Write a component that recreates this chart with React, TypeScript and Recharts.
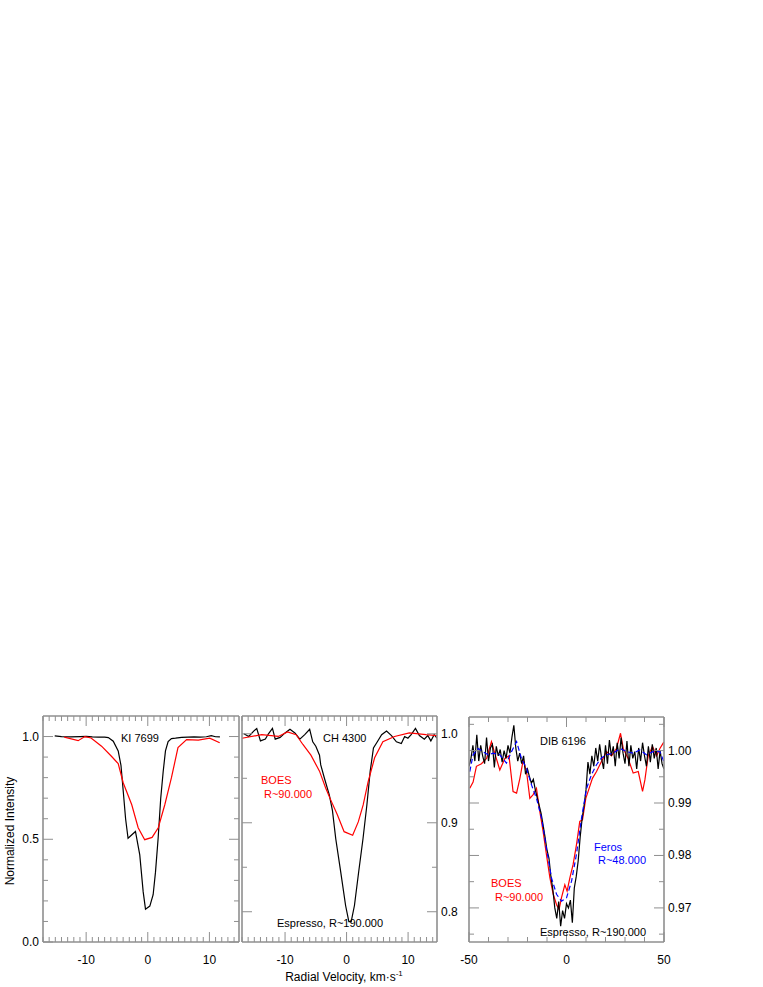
import React from "react";
import { LineChart, Line, XAxis, YAxis } from "recharts";

// KI 7699 — Espresso (black) and BOES (red)
const kiEspressoVel = [-15.1, -14.0, -12.5, -11.0, -10.0, -9.0, -8.0, -7.0, -6.4, -5.6, -4.8, -4.35, -3.97, -3.6, -3.2, -2.0, -1.3, -0.75, -0.37, 0.33, 0.87, 1.25, 1.68, 2.1, 2.5, 2.87, 3.3, 3.84, 4.5, 5.5, 6.5, 7.5, 8.5, 9.5, 10.3, 11.0, 11.7];
const kiEspressoInt = [1.003, 1.0, 0.998, 1.0, 1.001, 0.998, 0.997, 0.997, 0.995, 0.977, 0.93, 0.86, 0.73, 0.6, 0.505, 0.538, 0.424, 0.245, 0.16, 0.175, 0.23, 0.34, 0.505, 0.7, 0.83, 0.93, 0.975, 0.99, 0.992, 0.996, 0.997, 0.998, 0.997, 0.999, 1.004, 0.999, 0.998];
const kiBoesVel = [-13.55, -11.3, -10.2, -9.2, -7.5, -5.9, -4.8, -3.99, -2.6, -1.56, -0.5, 0.7, 1.7, 2.76, 3.84, 4.9, 6.3, 8.2, 10.05, 11.67];
const kiBoesInt = [0.997, 0.98, 1.0, 0.993, 0.953, 0.904, 0.868, 0.775, 0.668, 0.556, 0.498, 0.509, 0.556, 0.668, 0.8, 0.946, 0.985, 0.983, 0.992, 0.97];

// CH 4300
const chEspressoVel = [-16.7, -15.9, -15.1, -14.6, -14.0, -13.2, -12.7, -12.05, -11.6, -10.8, -10.0, -9.2, -8.4, -7.6, -6.8, -6.0, -5.5, -5.0, -4.4, -4.2, -3.6, -2.8, -2.3, -1.76, -0.96, -0.16, 0.37, 0.75, 1.28, 1.97, 2.67, 3.3, 3.84, 4.37, 4.9, 5.7, 6.5, 7.3, 8.1, 8.9, 9.44, 9.97, 10.5, 11.2, 11.84, 12.64, 13.2, 13.7, 14.24, 14.7];
const chEspressoInt = [1.0, 0.997, 1.003, 1.006, 0.992, 0.994, 1.0, 1.006, 0.994, 0.996, 1.001, 1.005, 1.001, 0.994, 0.999, 1.005, 0.991, 0.986, 0.976, 0.965, 0.95, 0.931, 0.914, 0.882, 0.845, 0.807, 0.789, 0.789, 0.807, 0.845, 0.882, 0.92, 0.958, 0.984, 0.99, 0.999, 1.003, 0.998, 0.991, 0.989, 0.997, 0.995, 0.999, 1.006, 0.998, 0.994, 0.998, 0.992, 0.999, 0.995];
const chBoesVel = [-17.0, -13.8, -11.1, -9.6, -8.2, -7.1, -5.8, -4.4, -3.4, -2.6, -1.5, -0.4, 0.99, 1.9, 2.7, 3.5, 4.56, 5.9, 7.8, 10.2, 12.9, 14.7];
const chBoesInt = [0.995, 0.999, 0.997, 1.002, 0.999, 0.988, 0.976, 0.958, 0.939, 0.926, 0.909, 0.89, 0.886, 0.901, 0.92, 0.946, 0.973, 0.991, 0.997, 1.001, 0.999, 0.998];

// DIB 6196
const dibEspressoVel = [-50, -49, -48, -47, -46, -45, -44, -43, -42, -41, -40, -39, -38, -37, -36, -35, -34, -33, -32, -31, -30, -29, -28, -27, -26, -25, -24, -23, -22, -21, -20, -19, -18, -17, -16, -15, -14, -13, -12, -11, -10, -9, -8, -7, -6, -5, -4, -3, -2, -1, 0, 1, 2, 3, 4, 5, 6, 7, 8, 9, 10, 11, 12, 13, 14, 15, 16, 17, 18, 19, 20, 21, 22, 23, 24, 25, 26, 27, 28, 29, 30, 31, 32, 33, 34, 35, 36, 37, 38, 39, 40, 41, 42, 43, 44, 45, 46, 47, 48, 49, 50];
const dibEspressoInt = [0.997, 0.9985, 1.001, 0.998, 1.003, 0.998, 1.001, 0.999, 0.9975, 1.0025, 0.998, 1.0005, 1.0012, 0.9968, 1.0008, 0.999, 1.0002, 0.9978, 1.0, 0.9985, 1.001, 0.9995, 1.0025, 1.0048, 1.0005, 0.998, 0.9995, 0.9975, 0.999, 0.9955, 0.9965, 0.995, 0.9938, 0.9945, 0.9925, 0.991, 0.9895, 0.988, 0.9858, 0.9835, 0.981, 0.9795, 0.976, 0.9735, 0.97, 0.968, 0.9712, 0.9665, 0.9695, 0.968, 0.9708, 0.97, 0.9715, 0.9672, 0.9738, 0.976, 0.979, 0.9835, 0.987, 0.9895, 0.9925, 0.9978, 0.9955, 0.999, 0.997, 1.0005, 0.998, 1.0012, 0.9985, 0.9965, 1.001, 0.9975, 1.002, 0.999, 1.0008, 0.997, 1.0015, 0.9985, 1.0025, 0.9995, 0.9975, 1.0018, 0.997, 1.001, 0.9985, 0.9998, 0.9965, 1.0005, 0.998, 1.0015, 0.999, 0.997, 1.0008, 0.9978, 1.0012, 0.9985, 1.0005, 0.9965, 1.0, 0.9975, 0.9965];
const dibBoesVel = [-49.6, -47.9, -46.2, -43.6, -41.0, -38.5, -36.8, -34.2, -31.6, -29.5, -27.4, -25.6, -23.9, -22.2, -20.5, -18.8, -17.1, -15.4, -13.7, -12.0, -10.3, -8.5, -6.8, -5.1, -3.8, -2.6, -0.85, 0.3, 1.7, 3.4, 5.1, 6.8, 8.2, 9.9, 11.6, 13.3, 15.4, 17.1, 20.5, 23.1, 25.6, 27.7, 29.1, 31.6, 34.2, 36.8, 39.0, 40.2, 41.9, 44.1, 46.2, 47.9, 49.9];
const dibBoesInt = [0.9928, 0.994, 0.997, 0.9975, 0.9985, 1.0017, 0.9995, 0.9963, 0.9985, 0.999, 0.9922, 0.9919, 0.9947, 0.9982, 0.996, 0.9909, 0.9916, 0.9928, 0.9884, 0.9846, 0.9802, 0.9757, 0.9726, 0.9706, 0.9697, 0.9719, 0.9744, 0.9732, 0.9757, 0.9783, 0.982, 0.9865, 0.9868, 0.9909, 0.9928, 0.9947, 0.996, 0.9973, 0.9998, 0.999, 1.0004, 1.0033, 1.0004, 0.9985, 0.9957, 0.996, 0.9922, 0.9944, 0.999, 1.0008, 0.999, 1.0004, 1.0016];
const dibFerosVel = [-49.6, -47.9, -45.3, -42.8, -40.2, -37.6, -34.2, -30.8, -28.2, -25.6, -23.1, -20.5, -17.9, -15.4, -12.8, -10.3, -7.7, -5.1, -2.6, 0, 2.6, 5.1, 7.7, 10.3, 12.8, 15.4, 17.9, 20.5, 24.0, 27.4, 30.8, 34.2, 37.6, 41.0, 44.4, 47.9, 49.9];
const dibFerosInt = [0.996, 0.9992, 1.0004, 0.9998, 0.9992, 0.9995, 0.9992, 0.9976, 0.9998, 1.0017, 0.9985, 0.9966, 0.9934, 0.9909, 0.9871, 0.9814, 0.9757, 0.9726, 0.9713, 0.9719, 0.9751, 0.9802, 0.9871, 0.9928, 0.9954, 0.9973, 0.9986, 0.9992, 0.9995, 1.0004, 0.9998, 0.9995, 1.0001, 0.9992, 0.9998, 0.9998, 0.9979];

// ticks
const velTicks = [-17, -16, -15, -14, -13, -12, -11, -10, -9, -8, -7, -6, -5, -4, -3, -2, -1, 0, 1, 2, 3, 4, 5, 6, 7, 8, 9, 10, 11, 12, 13, 14];
const velMajor = [-10, 0, 10];
const kiYTicks = [0, 0.1, 0.2, 0.3, 0.4, 0.5, 0.6, 0.7, 0.8, 0.9, 1.0];
const kiYMajor = [0, 0.5, 1.0];
const chYTicks = [0.8, 0.85, 0.9, 0.95, 1.0];
const chYMajor = [0.8, 0.9, 1.0];
const dibXTicks = [-50, -40, -30, -20, -10, 0, 10, 20, 30, 40, 50];
const dibXMajor = [-50, 0, 50];
const dibYTicks = [0.965, 0.97, 0.975, 0.98, 0.985, 0.99, 0.995, 1.0, 1.005];
const dibYMajor = [0.97, 0.98, 0.99, 1.0];

const AXIS = "#8f8f8f";
const FONT = "'Liberation Sans', Arial, Helvetica, sans-serif";

const pts = (v: number[], i: number[]) => v.map((x, k) => ({ x, y: i[k] }));

// inward tick, label only on majors
function makeTick(side: string, majors: number[], label: boolean, digits: number) {
  // eslint-disable-next-line @typescript-eslint/no-explicit-any
  return (p: any) => {
    const { x, y, payload } = p;
    const v = payload.value;
    const major = majors.some((m) => Math.abs(m - v) < 1e-9);
    const len = major ? 10 : 5;
    let line;
    let txt = null;
    if (side === "bottom") {
      line = <line x1={x} y1={y} x2={x} y2={y - len} stroke={AXIS} />;
      if (label && major) txt = <text x={x} y={y + 18} textAnchor="middle" dominantBaseline="central" fontSize={12} fontFamily={FONT} fill="#000">{v}</text>;
    } else if (side === "top") {
      line = <line x1={x} y1={y} x2={x} y2={y + len} stroke={AXIS} />;
    } else if (side === "left") {
      line = <line x1={x} y1={y} x2={x + len} y2={y} stroke={AXIS} />;
      if (label && major) txt = <text x={x - 4} y={y} textAnchor="end" dominantBaseline="central" fontSize={12} fontFamily={FONT} fill="#000">{v.toFixed(digits)}</text>;
    } else {
      line = <line x1={x} y1={y} x2={x - len} y2={y} stroke={AXIS} />;
      if (label && major) txt = <text x={x + 4} y={y} textAnchor="start" dominantBaseline="central" fontSize={12} fontFamily={FONT} fill="#000">{v.toFixed(digits)}</text>;
    }
    return <g>{line}{txt}</g>;
  };
}

interface Series { data: { x: number; y: number }[]; color: string; dash?: string }

interface PanelProps {
  left: number; top: number; width: number; height: number;
  margin: { top: number; right: number; bottom: number; left: number };
  xDomain: [number, number]; yDomain: [number, number];
  xTicks: number[]; xMajor: number[]; yTicks: number[]; yMajor: number[];
  yLabelSide: "left" | "right" | "none"; yDigits: number;
  series: Series[];
}

// axes take 1px each, so margins are reduced by 1
function Panel(p: PanelProps) {
  const common = { type: "number" as const, allowDataOverflow: true, tickSize: 0, tickMargin: 0, tickLine: false, axisLine: { stroke: AXIS, strokeWidth: 1.6 }, interval: 0 as const };
  const m = { top: p.margin.top - 1, right: p.margin.right - 1, bottom: p.margin.bottom - 1, left: p.margin.left - 1 };
  // top ticks drawn as a mirrored copy along the top edge
  return (
    <div style={{ position: "absolute", left: p.left, top: p.top }}>
      <LineChart width={p.width} height={p.height} margin={m}>
        <XAxis {...common} xAxisId="b" orientation="bottom" dataKey="x" height={1} domain={p.xDomain} ticks={p.xTicks} tick={makeTick("bottom", p.xMajor, true, 0)} />
        <XAxis {...common} xAxisId="t" orientation="top" dataKey="x" height={1} domain={p.xDomain} ticks={p.xTicks} tick={makeTick("top", p.xMajor, false, 0)} />
        <YAxis {...common} yAxisId="l" orientation="left" width={1} domain={p.yDomain} ticks={p.yTicks} tick={makeTick("left", p.yMajor, p.yLabelSide === "left", p.yDigits)} />
        <YAxis {...common} yAxisId="r" orientation="right" width={1} domain={p.yDomain} ticks={p.yTicks} tick={makeTick("right", p.yMajor, p.yLabelSide === "right", p.yDigits)} />
        {p.series.map((s, k) => (
          <Line key={k} xAxisId="b" yAxisId="l" data={s.data} dataKey="y" type="linear" stroke={s.color} strokeWidth={1.2} strokeDasharray={s.dash} dot={false} isAnimationActive={false} />
        ))}
        <Line xAxisId="t" yAxisId="r" data={p.series[0].data} dataKey="y" stroke="none" dot={false} legendType="none" isAnimationActive={false} />
      </LineChart>
    </div>
  );
}

function Note({ x, y, color = "#000", children }: { x: number; y: number; color?: string; children: React.ReactNode }) {
  return (
    <div style={{ position: "absolute", left: x, top: y, transform: "translateY(-50%)", color, fontFamily: FONT, fontSize: 11, lineHeight: 1, whiteSpace: "nowrap" }}>
      {children}
    </div>
  );
}

export default function App() {
  return (
    <div style={{ position: "absolute", left: 0, top: 0, width: 763, height: 987, background: "#fff" }}>
      <Panel left={0} top={700} width={241} height={287} margin={{ top: 16, right: 2, bottom: 45, left: 43 }}
        xDomain={[-17, 14.8]} yDomain={[0, 1.1]} xTicks={velTicks} xMajor={velMajor} yTicks={kiYTicks} yMajor={kiYMajor}
        yLabelSide="left" yDigits={1}
        series={[
          { data: pts(kiEspressoVel, kiEspressoInt), color: "#000" },
          { data: pts(kiBoesVel, kiBoesInt), color: "#ff0000" },
        ]} />
      <Panel left={240} top={700} width={232} height={287} margin={{ top: 16, right: 35, bottom: 45, left: 2 }}
        xDomain={[-17, 14.7]} yDomain={[0.766, 1.02]} xTicks={velTicks} xMajor={velMajor} yTicks={chYTicks} yMajor={chYMajor}
        yLabelSide="right" yDigits={1}
        series={[
          { data: pts(chEspressoVel, chEspressoInt), color: "#000" },
          { data: pts(chBoesVel, chBoesInt), color: "#ff0000" },
        ]} />
      <Panel left={460} top={700} width={303} height={287} margin={{ top: 17, right: 99, bottom: 45, left: 9 }}
        xDomain={[-50, 50]} yDomain={[0.9635, 1.0064]} xTicks={dibXTicks} xMajor={dibXMajor} yTicks={dibYTicks} yMajor={dibYMajor}
        yLabelSide="right" yDigits={2}
        series={[
          { data: pts(dibBoesVel, dibBoesInt), color: "#ff0000" },
          { data: pts(dibEspressoVel, dibEspressoInt), color: "#000" },
          { data: pts(dibFerosVel, dibFerosInt), color: "#0000ff", dash: "5 3" },
        ]} />

      <Note x={121} y={738}>KI 7699</Note>
      <Note x={323} y={738}>CH 4300</Note>
      <Note x={261} y={780} color="#ff0000">BOES</Note>
      <Note x={264} y={794} color="#ff0000">R~90.000</Note>
      <Note x={277} y={923}>Espresso, R~190.000</Note>
      <Note x={540} y={741}>DIB 6196</Note>
      <Note x={594} y={847} color="#0000ff">Feros</Note>
      <Note x={598} y={860} color="#0000ff">R~48.000</Note>
      <Note x={491} y={883} color="#ff0000">BOES</Note>
      <Note x={495} y={897} color="#ff0000">R~90.000</Note>
      <Note x={540} y={932}>Espresso, R~190.000</Note>

      <div style={{ position: "absolute", left: 10, top: 831, transform: "translate(-50%, -50%) rotate(-90deg)", fontFamily: FONT, fontSize: 12, whiteSpace: "nowrap", lineHeight: 1 }}>
        Normalized Intensity
      </div>
      <div style={{ position: "absolute", left: 344, top: 977, transform: "translate(-50%, -50%)", fontFamily: FONT, fontSize: 12, whiteSpace: "nowrap", lineHeight: 1 }}>
        Radial Velocity, km·s<span style={{ fontSize: 8, position: "relative", top: -5 }}>-1</span>
      </div>
    </div>
  );
}
